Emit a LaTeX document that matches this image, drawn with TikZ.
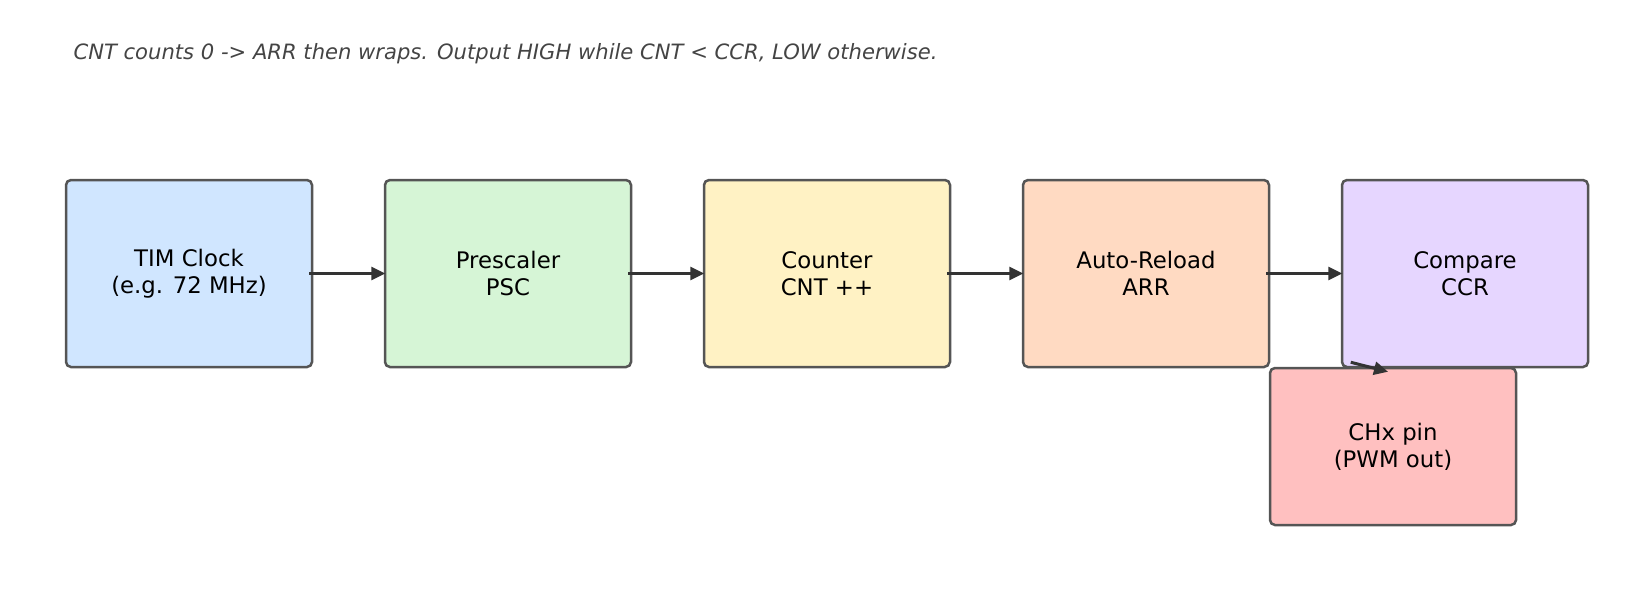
\documentclass[tikz,border=0pt]{standalone}
\usepackage{fontspec}
\setmainfont{DejaVu Sans}
\usetikzlibrary{arrows.meta}
\definecolor{bordc}{HTML}{555555}
\definecolor{arrc}{HTML}{333333}
\definecolor{titc}{HTML}{444444}
\definecolor{cblue}{HTML}{D0E6FF}
\definecolor{cgreen}{HTML}{D6F5D6}
\definecolor{cyellow}{HTML}{FFF2C4}
\definecolor{corange}{HTML}{FFDAC2}
\definecolor{cpurple}{HTML}{E6D6FF}
\definecolor{cred}{HTML}{FFC0C0}
\tikzset{
  box/.style={draw=bordc, line width=2.5pt, rounded corners=5pt, minimum width=246pt, minimum height=187pt, align=center, inner sep=0pt, font=\fontsize{22.8}{27}\selectfont, text=black},
  arr/.style={draw=arrc, line width=3pt, -{Triangle[length=14pt,width=13pt]}},
}
\begin{document}
\begin{tikzpicture}[x=1pt,y=-1pt]
\useasboundingbox (0,0) rectangle (1626,606);
\node[anchor=west, text=titc, font=\fontsize{21.1}{25}\selectfont\itshape] (title) at (70,54) {CNT counts 0 -> ARR then wraps. Output HIGH while CNT < CCR, LOW otherwise.};
\node[box, fill=cblue] (clk) at (189,273.5) {TIM Clock\\(e.g. 72 MHz)};
\node[box, fill=cgreen] (psc) at (508,273.5) {Prescaler\\PSC};
\node[box, fill=cyellow] (cnt) at (827,273.5) {Counter\\CNT ++};
\node[box, fill=corange] (arrn) at (1146,273.5) {Auto-Reload\\ARR};
\node[box, fill=cpurple] (cmp) at (1465,273.5) {Compare\\CCR};
\node[box, fill=cred, minimum height=157pt] (chx) at (1393,446.5) {CHx pin\\(PWM out)};
\draw[arr] ([xshift=-4pt]clk.east) -- ([xshift=1.5pt]psc.west);
\draw[arr] ([xshift=-4pt]psc.east) -- ([xshift=1.5pt]cnt.west);
\draw[arr] ([xshift=-4pt]cnt.east) -- ([xshift=1.5pt]arrn.west);
\draw[arr] ([xshift=-4pt]arrn.east) -- ([xshift=1.5pt]cmp.west);
\draw[arr] ([xshift=10pt,yshift=6pt]cmp.south west) -- ([xshift=-5pt,yshift=-5pt]chx.north);
\end{tikzpicture}
\end{document}
